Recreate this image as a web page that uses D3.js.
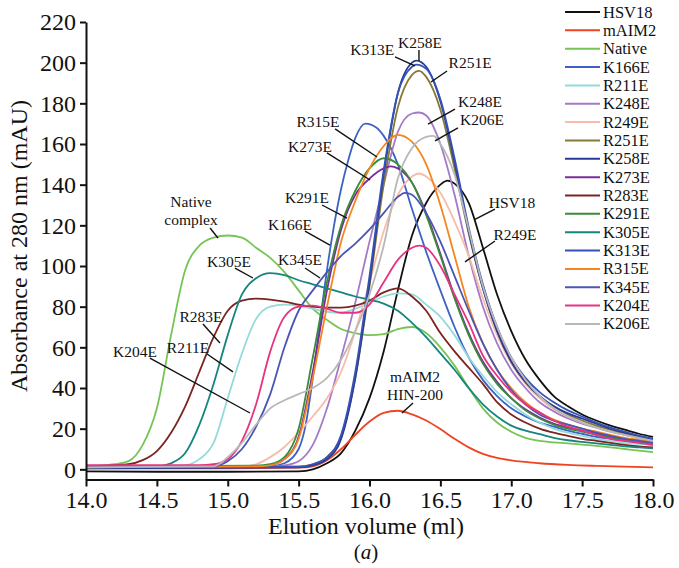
<!DOCTYPE html>
<html><head><meta charset="utf-8">
<script src="https://cdn.jsdelivr.net/npm/d3@7"></script>
<style>body{margin:0;background:#fff}svg{display:block}</style>
</head><body>
<svg id="c" width="679" height="568"></svg>
<script>
// ---- data: [elution volume (ml), absorbance (mAU)] ----
const hsv18 = [[14,-1],[14.5,-1.2],[15,-1.2],[15.5,-1],[15.6,0],[15.7,3],[15.8,8],[15.9,19],[16,35],[16.1,58],[16.2,88],[16.3,115],[16.4,131],[16.5,140],[16.55,142],[16.6,140.5],[16.7,131],[16.8,109],[16.9,86],[17,68],[17.1,54],[17.2,44],[17.3,36],[17.4,31],[17.5,27],[17.6,24],[17.7,21.5],[17.8,19.5],[17.9,17.5],[18,16]];
const maim2 = [[14,0.5],[15,0.5],[15.5,0.8],[15.6,1.5],[15.7,4.5],[15.8,10],[15.9,17],[16,23.5],[16.1,27.8],[16.2,28.8],[16.3,27],[16.4,24],[16.5,19.8],[16.6,15],[16.7,10.8],[16.8,7.6],[16.9,5.6],[17,4.4],[17.2,3],[17.4,2.2],[17.6,1.7],[17.8,1.3],[18,1]];
const native = [[14,1.5],[14.1,1.8],[14.2,2.5],[14.3,4],[14.4,12],[14.5,30],[14.6,66],[14.7,98],[14.8,110],[14.9,114],[15,115],[15.1,114],[15.2,109],[15.3,104],[15.4,97],[15.5,88],[15.6,79],[15.7,73.5],[15.8,69],[15.9,67],[16,66],[16.1,66.5],[16.2,69],[16.3,70],[16.4,67],[16.5,60],[16.6,51],[16.7,40],[16.8,30],[16.9,23],[17,18.5],[17.1,15.5],[17.2,14],[17.3,13.3],[17.4,12.8],[17.5,12.2],[17.6,11.5],[17.7,10.8],[17.8,10],[17.9,9.2],[18,8.5]];
const k166e = [[14,1],[15,1],[15.3,1.5],[15.4,3],[15.5,10],[15.55,22],[15.6,45],[15.65,72],[15.7,98],[15.75,120],[15.8,138],[15.85,152],[15.9,163],[15.97,170],[16.05,168],[16.1,164],[16.2,150],[16.3,128],[16.4,107],[16.5,88],[16.6,70],[16.7,55],[16.8,44],[16.9,36],[17,30],[17.1,26],[17.2,23],[17.3,21],[17.4,19],[17.5,17.5],[17.6,16],[17.7,15],[17.8,14],[17.9,13],[18,12]];
const r211e = [[14,1],[14.6,1],[14.7,1.8],[14.8,5],[14.9,13],[15,35],[15.1,57],[15.2,74],[15.3,80],[15.4,81],[15.5,80.5],[15.6,79],[15.7,77.5],[15.8,77],[15.9,79],[16,82],[16.1,85],[16.2,86.5],[16.3,86],[16.4,81],[16.5,75],[16.6,66],[16.7,55],[16.8,46],[16.9,38],[17,32],[17.1,27],[17.2,23],[17.3,20],[17.4,18],[17.5,16.5],[17.6,15],[17.7,14],[17.8,13],[17.9,12.5],[18,12]];
const k248e = [[14,1],[15.3,1.5],[15.4,2],[15.5,4],[15.6,12],[15.7,30],[15.8,55],[15.9,82],[16,112],[16.1,140],[16.2,166],[16.3,175],[16.35,175.5],[16.4,174],[16.5,160],[16.6,135],[16.7,105],[16.8,80],[16.9,62],[17,49],[17.1,40],[17.2,33],[17.3,28.5],[17.4,25],[17.5,22.5],[17.6,20.5],[17.7,18.5],[17.8,17],[17.9,15.5],[18,14.5]];
const r249e = [[14,1],[15.1,1.5],[15.2,2.5],[15.3,6],[15.4,11],[15.5,18],[15.6,26],[15.7,35],[15.8,48],[15.9,68],[16,92],[16.1,117],[16.2,135],[16.3,144],[16.35,145.5],[16.4,144],[16.5,136],[16.6,122],[16.7,105],[16.8,84],[16.9,66],[17,52],[17.1,42],[17.2,35],[17.3,29.5],[17.4,26],[17.5,23],[17.6,21],[17.7,19],[17.8,17],[17.9,15.5],[18,14.5]];
const r251e = [[14,1],[15.5,1.5],[15.6,2.5],[15.7,6],[15.8,16],[15.9,45],[16,90],[16.1,140],[16.2,178],[16.3,194],[16.35,196],[16.4,193],[16.5,177],[16.6,148],[16.7,116],[16.8,89],[16.9,68],[17,53],[17.1,43],[17.2,36],[17.3,31],[17.4,27],[17.5,24],[17.6,21.5],[17.7,19.5],[17.8,17.5],[17.9,16],[18,15]];
const k258e = [[14,0.5],[15.5,1],[15.6,2],[15.7,5],[15.8,15],[15.9,45],[16,92],[16.1,145],[16.2,185],[16.3,200],[16.33,201],[16.4,198],[16.5,181],[16.6,151],[16.7,117],[16.8,89],[16.9,68],[17,53],[17.1,43],[17.2,36],[17.3,31],[17.4,27.5],[17.5,25],[17.6,22.5],[17.7,20],[17.8,18],[17.9,16.5],[18,15]];
const k273e = [[14,1],[15.2,1.5],[15.3,2],[15.4,5],[15.5,16],[15.6,48],[15.7,88],[15.8,118],[15.9,135],[16,143],[16.1,148],[16.15,149],[16.2,148],[16.3,141],[16.4,126],[16.5,106],[16.6,85],[16.7,67],[16.8,53],[16.9,43],[17,35],[17.1,29.5],[17.2,25.5],[17.3,22.5],[17.4,20.5],[17.5,19],[17.6,17.5],[17.7,16],[17.8,15],[17.9,14],[18,13]];
const r283e = [[14,1.5],[14.1,1.5],[14.2,2],[14.3,2.5],[14.4,4.5],[14.5,9],[14.6,18],[14.7,31],[14.8,48],[14.9,65],[15,78],[15.1,83],[15.2,84],[15.3,83.5],[15.4,82.5],[15.5,81],[15.6,80],[15.7,79.5],[15.8,79.5],[15.9,80.5],[16,83],[16.1,87],[16.2,89],[16.3,85],[16.4,78],[16.5,67],[16.6,58],[16.7,50],[16.8,42],[16.9,33],[17,27],[17.1,23],[17.2,20],[17.3,18],[17.4,16.5],[17.5,15],[17.6,14],[17.7,13],[17.8,12],[17.9,11.3],[18,10.8]];
const k291e = [[14,1.5],[15.2,1.8],[15.3,2.5],[15.4,6],[15.5,20],[15.6,55],[15.7,92],[15.8,120],[15.9,137],[16,148],[16.1,153],[16.2,150],[16.3,141],[16.4,125],[16.5,105],[16.6,84],[16.7,66],[16.8,52],[16.9,42],[17,35],[17.1,29],[17.2,25],[17.3,22],[17.4,20],[17.5,18.5],[17.6,17],[17.7,15.5],[17.8,14.5],[17.9,13.5],[18,12.5]];
const k305e = [[14,1],[14.5,1.5],[14.6,3],[14.7,8],[14.8,22],[14.9,42],[15,66],[15.1,86],[15.2,94],[15.3,96.5],[15.4,95.5],[15.5,93],[15.6,91],[15.7,89],[15.8,87],[15.9,85],[16,83.5],[16.1,81.5],[16.2,78],[16.3,72],[16.4,65],[16.5,57],[16.6,49],[16.7,40],[16.8,32],[16.9,26],[17,21.5],[17.1,19],[17.2,17.3],[17.3,15.5],[17.4,14.3],[17.5,13.5],[17.6,12.8],[17.7,12],[17.8,11.3],[17.9,10.8],[18,10.3]];
const k313e = [[14,1],[15.5,1.2],[15.6,2.5],[15.7,6],[15.8,17],[15.9,48],[16,95],[16.1,147],[16.2,185],[16.3,198],[16.33,199],[16.4,197],[16.5,182],[16.6,153],[16.7,119],[16.8,91],[16.9,70],[17,55],[17.1,45],[17.2,38],[17.3,33],[17.4,29],[17.5,26],[17.6,23],[17.7,20.5],[17.8,18.5],[17.9,16.5],[18,15]];
const r315e = [[14,1],[15.2,1.5],[15.3,2],[15.4,5],[15.5,15],[15.6,45],[15.7,80],[15.8,112],[15.9,132],[16,148],[16.1,159],[16.2,164.5],[16.3,161],[16.4,150],[16.5,130],[16.6,105],[16.7,80],[16.8,62],[16.9,49],[17,40],[17.1,33],[17.2,28],[17.3,24.5],[17.4,22],[17.5,20],[17.6,18.5],[17.7,17],[17.8,15.5],[17.9,14.5],[18,13.5]];
const k345e = [[14,1],[14.9,1.5],[15,4],[15.1,10],[15.2,21],[15.3,37],[15.4,60],[15.5,78],[15.6,88],[15.7,97],[15.8,105],[15.9,111],[16,118],[16.1,126],[16.2,134],[16.25,136],[16.3,135],[16.4,126],[16.5,112],[16.6,95],[16.7,78],[16.8,62],[16.9,49],[17,39],[17.1,32],[17.2,27],[17.3,24],[17.4,22],[17.5,20],[17.6,18],[17.7,16.5],[17.8,15],[17.9,14],[18,13]];
const k204e = [[14,2],[14.8,2],[14.9,2.5],[15,5],[15.1,14],[15.2,32],[15.3,58],[15.4,75],[15.5,80],[15.6,80.5],[15.7,79],[15.8,77],[15.9,77],[16,81],[16.1,92],[16.2,103],[16.3,109],[16.35,110],[16.4,109],[16.5,100],[16.6,86],[16.7,72],[16.8,56],[16.9,46],[17,38],[17.1,32],[17.2,28],[17.3,24],[17.4,21],[17.5,19],[17.6,17],[17.7,15],[17.8,14],[17.9,13],[18,12]];
const k206e = [[14,1],[14.9,1.5],[15,6],[15.1,13],[15.2,22],[15.3,30],[15.4,34],[15.5,37],[15.6,40],[15.7,45],[15.8,54],[15.9,68],[16,86],[16.1,110],[16.2,143],[16.3,158],[16.4,163.5],[16.45,164],[16.5,160],[16.6,145],[16.7,118],[16.8,90],[16.9,70],[17,55],[17.1,44],[17.2,36],[17.3,30],[17.4,26],[17.5,23],[17.6,20.5],[17.7,18.5],[17.8,17],[17.9,15.5],[18,14]];

const seriesNames = ["HSV18","mAIM2","Native","K166E","R211E","K248E","R249E","R251E","K258E","K273E","R283E","K291E","K305E","K313E","R315E","K345E","K204E","K206E"];
const seriesData = [hsv18,maim2,native,k166e,r211e,k248e,r249e,r251e,k258e,k273e,r283e,k291e,k305e,k313e,r315e,k345e,k204e,k206e];
const seriesColors = ["#111111","#ee4422","#77c455","#3b62c4","#94dada","#a37ac8","#f7bcaa","#857a35","#2b3a96","#7a2c9a","#7c2420","#3a8c3a","#15857e","#3452b8","#f5861f","#4a55b5","#e83282","#b8b8b8"];

const xTicks = [14.0,14.5,15.0,15.5,16.0,16.5,17.0,17.5,18.0];
const yTicks = [0,20,40,60,80,100,120,140,160,180,200,220];

// annotations in data units: text anchor, leader from, leader to
const annotations = [
  {t:["K313E"], at:[16.02,203.8], from:[16.18,202.8], to:[16.32,198.4]},
  {t:["K258E"], at:[16.356,207.2], from:[16.349,206.2], to:[16.349,200.8]},
  {t:["R251E"], at:[16.71,197.4], from:[16.547,195.9], to:[16.434,190.5]},
  {t:["K248E"], at:[16.78,178.2], from:[16.603,177.2], to:[16.413,169.8]},
  {t:["K206E"], at:[16.794,169.3], from:[16.624,167.9], to:[16.462,161.5]},
  {t:["R315E"], at:[15.637,168.3], from:[15.757,167.4], to:[16.053,153.6]},
  {t:["K273E"], at:[15.58,156.0], from:[15.70,155.6], to:[16.004,142.3]},
  {t:["K291E"], at:[15.559,131.0], from:[15.665,130.0], to:[15.841,123.6]},
  {t:["K166E"], at:[15.439,117.7], from:[15.545,117.2], to:[15.721,110.3]},
  {t:["K345E"], at:[15.51,100.5], from:[15.545,99.0], to:[15.651,94.1]},
  {t:["Native","complex"], at:[14.741,129.0], from:[14.875,118.7], to:[14.931,113.8]},
  {t:["K305E"], at:[15.009,99.5], from:[15.051,99.0], to:[15.178,94.1]},
  {t:["R283E"], at:[14.811,72.4], from:[14.825,71.5], to:[14.945,62.1]},
  {t:["R211E"], at:[14.72,57.2], from:[14.854,56.7], to:[15.037,47.9]},
  {t:["K204E"], at:[14.346,55.2], from:[14.451,54.7], to:[15.157,27.7]},
  {t:["HSV18"], at:[17.005,128.5], from:[16.885,128.0], to:[16.744,122.9]},
  {t:["R249E"], at:[17.026,112.8], from:[16.885,112.3], to:[16.674,102.0]},
  {t:["mAIM2","HIN-200"], at:[16.321,42.9], from:[16.307,32.6], to:[16.229,27.7]}
];

// ---- drawing ----
const svg = d3.select("#c");
const FONT = "'Liberation Serif','Times New Roman',serif";
const x = d3.scaleLinear().domain([14,18]).range([86,653]);
const y = d3.scaleLinear().domain([-5,220]).range([479.5,22]);

const line = d3.line().x(d=>x(d[0])).y(d=>y(d[1])).curve(d3.curveMonotoneX);

const g = svg.append("g");
g.selectAll("path.s").data(seriesData).join("path")
  .attr("class","s")
  .attr("d", line)
  .attr("fill","none")
  .attr("stroke",(d,i)=>seriesColors[i])
  .attr("stroke-width",1.8)
  .attr("stroke-linejoin","round");

// axes
const ax = svg.append("g").attr("transform","translate(0,479.5)")
  .call(d3.axisBottom(x).tickValues(xTicks).tickFormat(d3.format(".1f")).tickSize(7).tickSizeOuter(0).tickPadding(4));
const ay = svg.append("g").attr("transform","translate(86,0)")
  .call(d3.axisLeft(y).tickValues(yTicks).tickSize(6).tickSizeOuter(0).tickPadding(4));
[ax,ay].forEach(a=>{
  a.selectAll("path,line").attr("stroke","#111").attr("stroke-width",2);
  a.selectAll("text").attr("font-family",FONT).attr("font-size",24).attr("fill","#111");
});

svg.append("text").attr("x",366).attr("y",534).attr("text-anchor","middle")
  .attr("font-family",FONT).attr("font-size",24).attr("fill","#111").text("Elution volume (ml)");
svg.append("text").attr("transform","translate(27,246) rotate(-90)").attr("text-anchor","middle")
  .attr("font-family",FONT).attr("font-size",24).attr("fill","#111").text("Absorbance at 280 nm (mAU)");
const cap = svg.append("text").attr("x",366).attr("y",559).attr("text-anchor","middle")
  .attr("font-family",FONT).attr("font-size",21).attr("fill","#111");
cap.append("tspan").text("(");
cap.append("tspan").attr("font-style","italic").text("a");
cap.append("tspan").text(")");

// annotations
const an = svg.append("g");
annotations.forEach(a=>{
  an.append("line").attr("x1",x(a.from[0])).attr("y1",y(a.from[1]))
    .attr("x2",x(a.to[0])).attr("y2",y(a.to[1])).attr("stroke","#111").attr("stroke-width",1.4);
  a.t.forEach((s,k)=>{
    an.append("text").attr("x",x(a.at[0])).attr("y",y(a.at[1])+k*18)
      .attr("text-anchor","middle").attr("font-family",FONT).attr("font-size",15.5).attr("fill","#111").text(s);
  });
});

// legend
const lg = svg.append("g");
seriesNames.forEach((n,i)=>{
  const yy = 12 + i*18.35;
  lg.append("line").attr("x1",565).attr("x2",600).attr("y1",yy).attr("y2",yy)
    .attr("stroke",seriesColors[i]).attr("stroke-width",2);
  lg.append("text").attr("x",603).attr("y",yy+5.5).attr("font-family",FONT).attr("font-size",16.5)
    .attr("fill","#111").text(n);
});
</script>
</body></html>
